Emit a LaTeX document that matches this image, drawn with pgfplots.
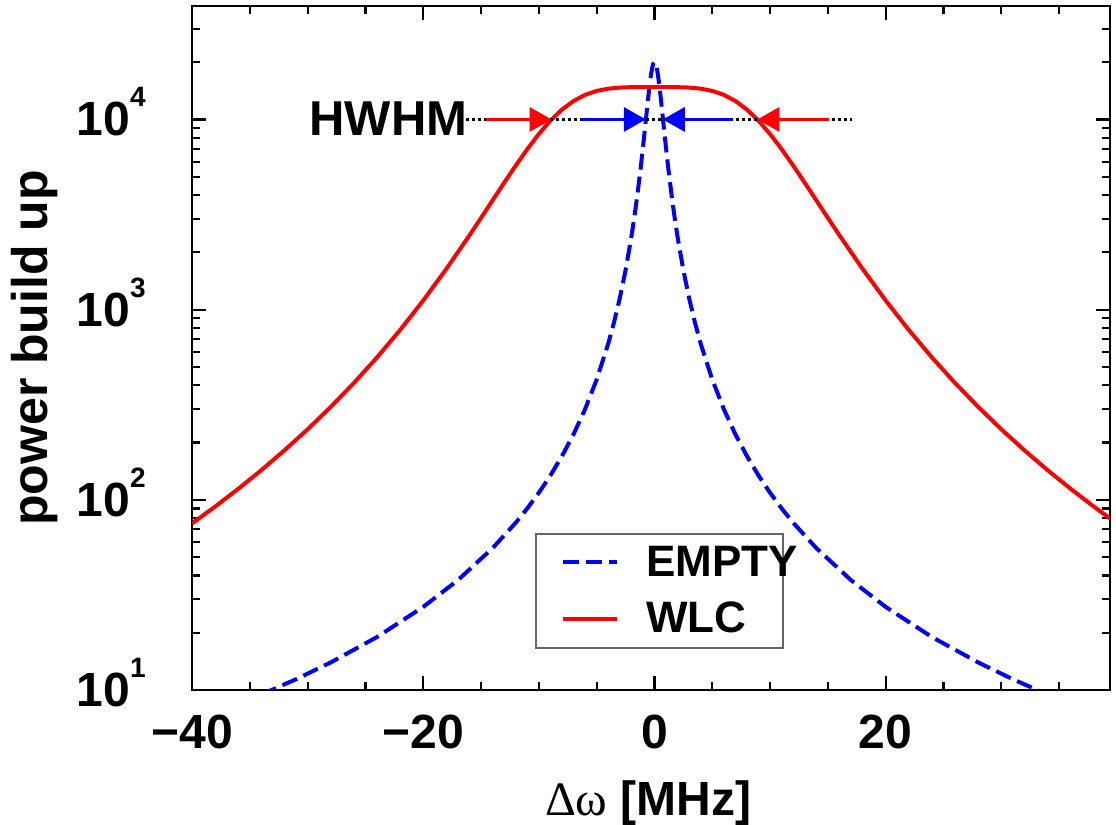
\documentclass[border=0pt]{standalone}
\usepackage{fontspec}
\setmainfont{Liberation Sans}
\newfontfamily\greekserif{Liberation Serif}
\usepackage{pgfplots}
\pgfplotsset{compat=1.18}
\usetikzlibrary{arrows.meta}

\newcommand{\tickfont}{\fontsize{24}{24}\selectfont\bfseries}
\newcommand{\sups}[1]{\smash{\raisebox{14.5pt}{\fontsize{14}{14}\selectfont #1}}}
\tikzset{hw/.style={line width=1.7pt, -{Triangle[length=11pt,width=12pt]}}}

\begin{document}
\begin{tikzpicture}
\useasboundingbox (-96pt,-67.5pt) rectangle (462pt,345pt);
\begin{axis}[
  scale only axis, width=459pt, height=342pt,
  xmin=-40, xmax=39.4,
  ymode=log, ymin=10, ymax=39500,
  axis line style={line width=1.3pt},
  tick style={black, line width=1.1pt},
  major tick length=7pt, minor tick length=4.2pt,
  xtick={-40,-20,0,20},
  xticklabels={−40,−20,0,20},
  minor xtick={-35,-30,-25,-15,-10,-5,5,10,15,25,30,35},
  ytick={10,100,1000,10000},
  yticklabels={10\sups{1},10\sups{2},10\sups{3},10\sups{4}},
  minor ytick={20,30,40,50,60,70,80,90,200,300,400,500,600,700,800,900,2000,3000,4000,5000,6000,7000,8000,9000,20000,30000},
  xticklabel style={font=\tickfont, inner sep=0pt, yshift=-12.5pt},
  yticklabel style={font=\tickfont, inner sep=0pt, xshift=-23pt},
  xlabel={{\greekserif\mdseries Δω} [MHz]},
  xlabel style={font=\fontsize{24}{24}\selectfont\bfseries, at={(axis description cs:0.497,0)}, anchor=base, yshift=-63pt},
  ylabel={power build up},
  ylabel style={font=\fontsize{25}{25}\selectfont\bfseries, at={(axis description cs:-0.1569,0.5)}, anchor=base},
  legend style={
    at={(axis description cs:0.374,0.2295)}, anchor=north west,
    draw=black!60, line width=0.8pt,
    inner xsep=12.5pt, inner ysep=6pt,
    font=\fontsize{22}{22}\selectfont\bfseries,
    nodes={inner sep=0pt, anchor=west},
    column sep=13.5pt, row sep=11.5pt,
  },
  legend image code/.code={\draw[#1] (0pt,0pt) -- (27pt,0pt);},
]

% empty cavity: narrow resonance
\addplot[blue, line width=2pt, dash pattern=on 8pt off 3.5pt] coordinates {
  (-34,9.47) (-31,11.39) (-28,13.96) (-24,18.99) (-20,27.34) (-17,37.82)
  (-14,55.72) (-12,75.77) (-11,90.1) (-10,108.9) (-9,134.3) (-8,169.7)
  (-7,221.0) (-6,299.7) (-5,428.7) (-4,661.9) (-3.5,855.8) (-3,1147)
  (-2.5,1611) (-2,2408) (-1.75,3034) (-1.5,3915) (-1.2,5510) (-1.0,7077)
  (-0.9,8067) (-0.8,9222) (-0.7,10555) (-0.6,12067) (-0.5,13731)
  (-0.4,15478) (-0.3,17177) (-0.2,18639) (-0.1,19641) (0,20000)
  (0.1,19641) (0.2,18639) (0.3,17177) (0.4,15478) (0.5,13731)
  (0.6,12067) (0.7,10555) (0.8,9222) (0.9,8067) (1.0,7077) (1.2,5510)
  (1.5,3915) (1.75,3034) (2,2408) (2.5,1611) (3,1147) (3.5,855.8)
  (4,661.9) (5,428.7) (6,299.7) (7,221.0) (8,169.7) (9,134.3) (10,108.9)
  (11,90.1) (12,75.77) (14,55.72) (17,37.82) (20,27.34) (24,18.99)
  (28,13.96) (31,11.39) (34,9.47)
};
\addlegendentry{\makebox[56pt][l]{EMPTY}}

% white light cavity: flat-topped response
\addplot[red, line width=2pt] coordinates {
  (-40,75.1) (-38,92.1) (-36,114.2) (-34,143.2) (-32,182.1) (-30,234.8)
  (-28,307.9) (-26,411.2) (-24,560.5) (-22,781.5) (-20,1116.8)
  (-18,1637.4) (-16,2459) (-15,3035) (-14,3755) (-13,4644) (-12,5719)
  (-11,6977) (-10,8383) (-9,9851) (-8,11266) (-7,12502) (-6,13464)
  (-5,14124) (-4,14515) (-3,14709) (-2,14782) (-1,14799) (0,14800)
  (1,14799) (2,14782) (3,14709) (4,14515) (5,14124) (6,13464) (7,12502)
  (8,11266) (9,9851) (10,8383) (11,6977) (12,5719) (13,4644) (14,3755)
  (15,3035) (16,2459) (18,1637.4) (20,1116.8) (22,781.5) (24,560.5)
  (26,411.2) (28,307.9) (30,234.8) (32,182.1) (34,143.2) (36,114.2)
  (38,92.1) (40,75.1)
};
\addlegendentry{\makebox[56pt][l]{WLC}}

% half-width markers at the half-maximum level
\draw[black, line width=1.1pt, dash pattern=on 1.5pt off 1.5pt]
  (axis cs:-16.8,10000) -- (axis cs:17.1,10000);
\draw[red, hw] (axis cs:-14.6,10000) -- (axis cs:-8.9,10000);
\draw[red, hw] (axis cs:15.1,10000) -- (axis cs:8.9,10000);
\draw[blue, hw] (axis cs:-6.3,10000) -- (axis cs:-0.75,10000);
\draw[blue, hw] (axis cs:6.8,10000) -- (axis cs:0.72,10000);
\node[anchor=base east, inner sep=0pt, font=\fontsize{24.5}{24.5}\selectfont\bfseries]
  at (axis cs:-16.15,8236) {HWHM};
\end{axis}
\end{tikzpicture}
\end{document}
